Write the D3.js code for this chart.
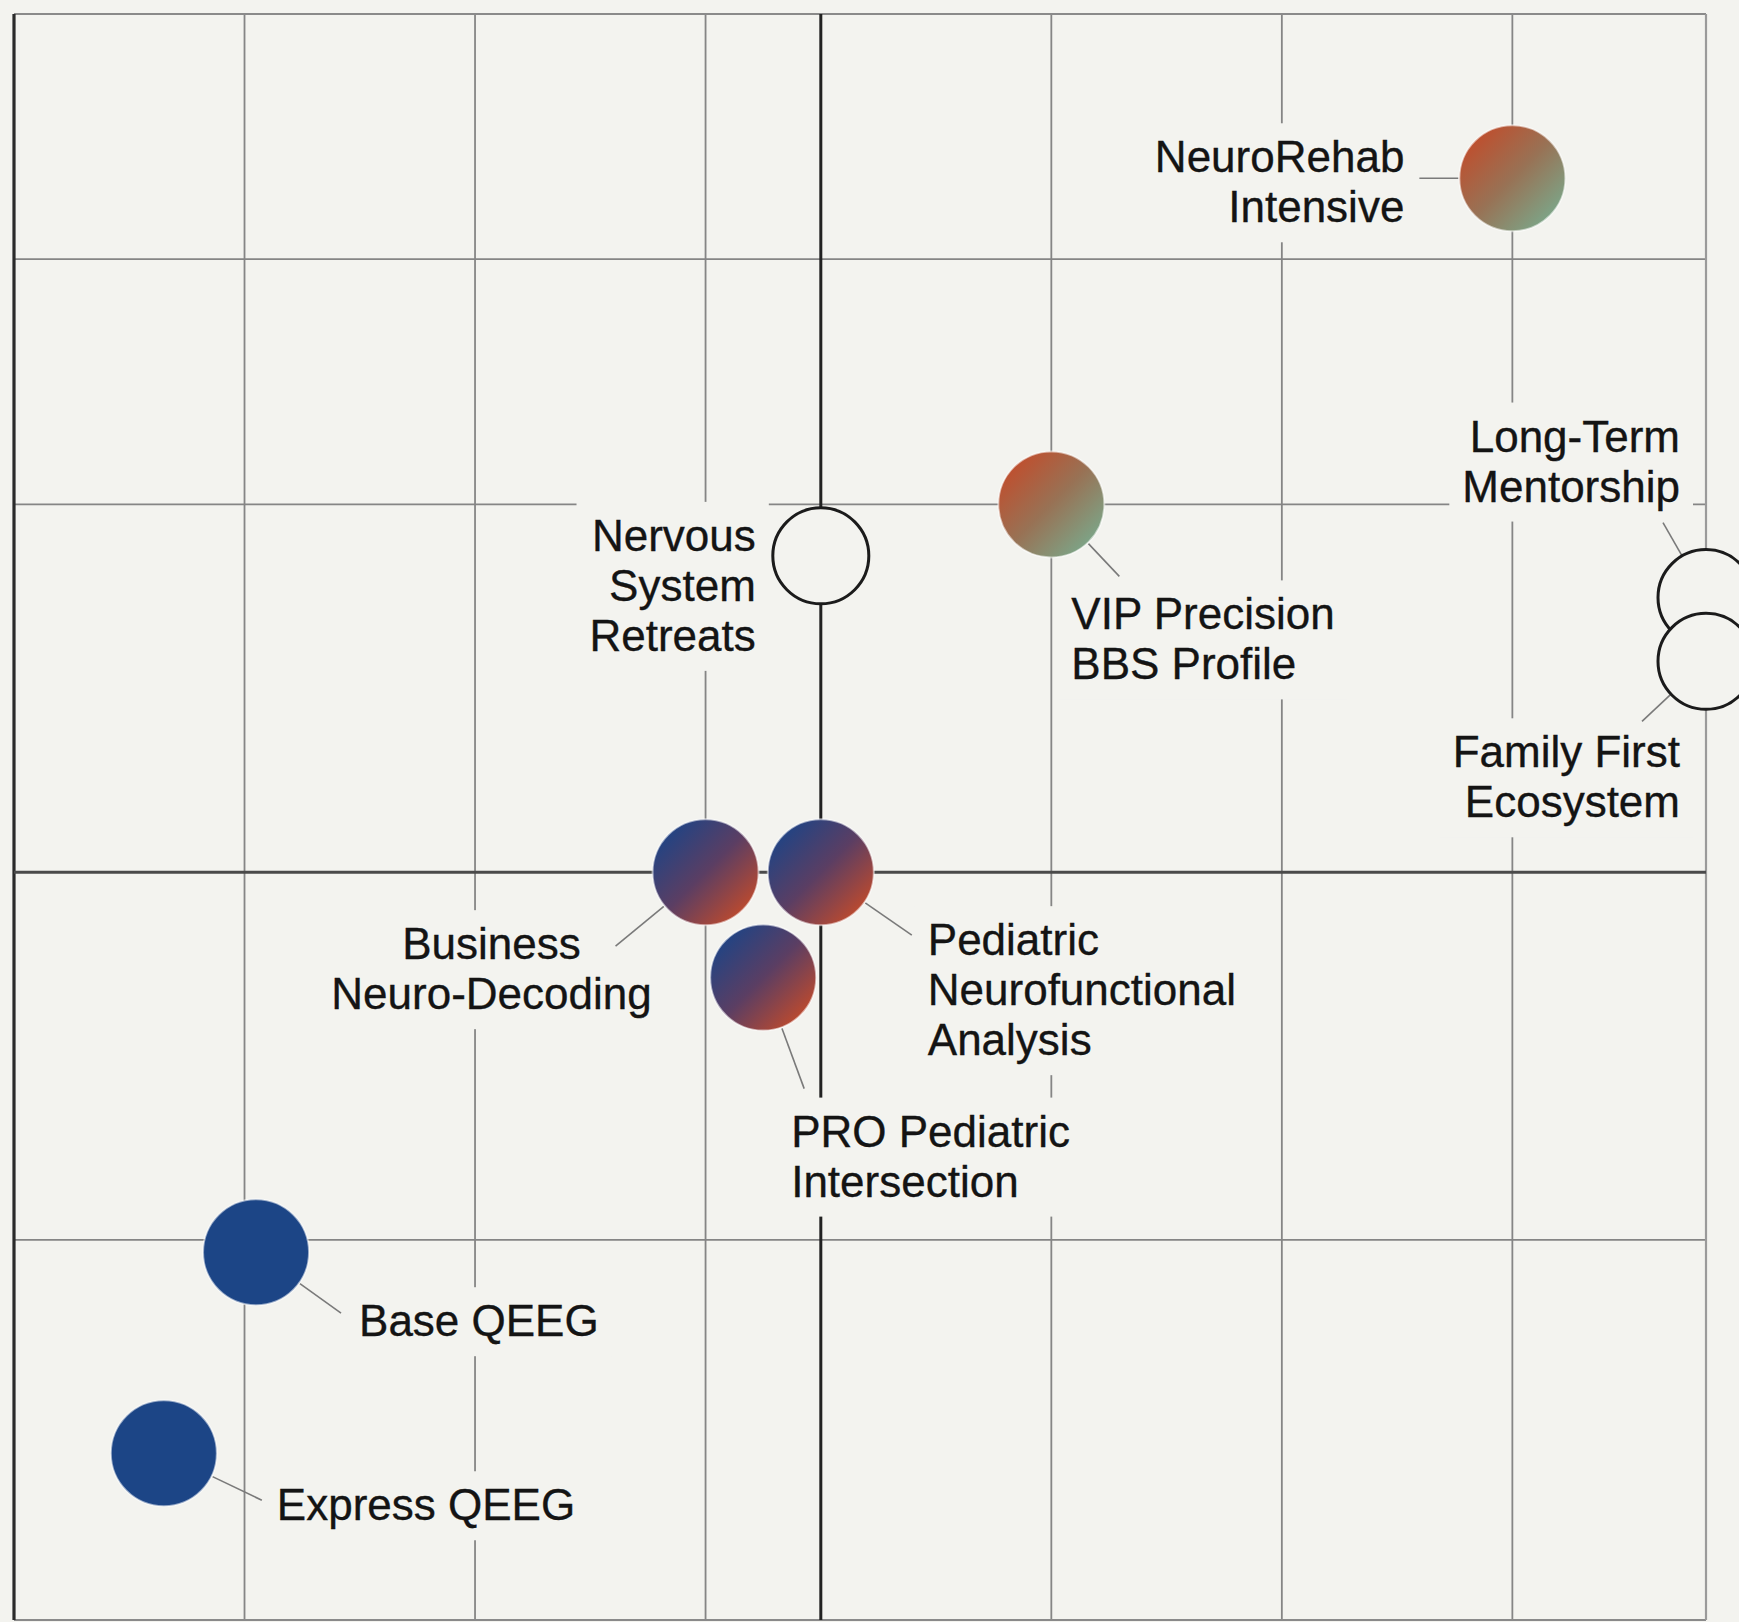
<!DOCTYPE html>
<html>
<head>
<meta charset="utf-8">
<script src="https://cdn.jsdelivr.net/npm/d3@7"></script>
<style>
  html, body { margin: 0; padding: 0; background: #f3f3ef; }
  svg { display: block; }
</style>
</head>
<body>
<svg id="chart" width="1739" height="1622"></svg>
<script>
// ---------- DATA ----------
const names = [
  "Express QEEG",
  "Base QEEG",
  "Business\nNeuro-Decoding",
  "Pediatric\nNeurofunctional\nAnalysis",
  "PRO Pediatric\nIntersection",
  "Nervous\nSystem\nRetreats",
  "VIP Precision\nBBS Profile",
  "NeuroRehab\nIntensive",
  "Long-Term\nMentorship",
  "Family First\nEcosystem"
];
const xValues = [0.65, 1.05, 3.0, 3.5, 3.25, 3.5, 4.5, 6.5, 7.34, 7.34];
const yValues = [0.63, 1.45, 3.0, 3.0, 2.57, 4.29, 4.5, 5.83, 4.12, 3.86];
const groups  = ["base", "base", "mid", "mid", "mid", "open", "premium", "premium", "open", "open"];

const xGridTicks = [1, 2, 3, 4.5, 5.5, 6.5];
const yGridTicks = [1.5, 4.5, 5.5];
const xCenter = 3.5;
const yCenter = 3.0;
const xDomain = [0, 7.34];
const yDomain = [-0.05, 6.5];

// ---------- LAYOUT (label placement, px offsets from the bubble centre) ----------
const labelLayout = [
  { anchor: "start",  dx: 113,  dy: 67,   lead: [98, 47] },
  { anchor: "start",  dx: 103,  dy: 84,   lead: [85, 61] },
  { anchor: "middle", dx: -214, dy: 87,   lead: [-90, 74] },
  { anchor: "start",  dx: 107,  dy: 83,   lead: [91, 63] },
  { anchor: "start",  dx: 28,   dy: 169,  lead: [41, 111] },
  { anchor: "end",    dx: -65,  dy: -5,   lead: null },
  { anchor: "start",  dx: 20,   dy: 125,  lead: [68, 72] },
  { anchor: "end",    dx: -108, dy: -6,   lead: [-93, 0] },
  { anchor: "end",    dx: -26,  dy: -146, lead: [-43, -75] },
  { anchor: "end",    dx: -26,  dy: 106,  lead: [-64, 60] }
];

// ---------- STYLES ----------
const BG = "#f3f3ef";
const R = 53, R_OPEN = 48;
const FONT = "'Liberation Sans', Arial, Helvetica, sans-serif";
const FS = 44, LH = 50;

const svg = d3.select("#chart");
const W = 1739, H = 1622;

const x = d3.scaleLinear().domain(xDomain).range([14, 1706]);
const y = d3.scaleLinear().domain(yDomain).range([1620, 14]);

svg.append("rect").attr("width", W).attr("height", H).attr("fill", BG);

// gradients
const defs = svg.append("defs");
function grad(id, stops) {
  const g = defs.append("linearGradient").attr("id", id)
    .attr("x1", "0.1").attr("y1", "0.1").attr("x2", "0.9").attr("y2", "0.9");
  stops.forEach(s => g.append("stop").attr("offset", s[0]).attr("stop-color", s[1]));
}
grad("gMid", [["0%", "#1d4486"], ["50%", "#5b3e63"], ["100%", "#c44b2a"]]);
grad("gPremium", [["0%", "#c24c2b"], ["50%", "#987255"], ["100%", "#7aa98c"]]);

const fills = { base: "#1c4586", mid: "url(#gMid)", premium: "url(#gPremium)", open: BG };

// ---------- GRID ----------
const grid = svg.append("g");
grid.selectAll("line.gx").data(xGridTicks).join("line")
  .attr("x1", d => x(d)).attr("x2", d => x(d))
  .attr("y1", y(yDomain[1])).attr("y2", y(yDomain[0]))
  .attr("stroke", "#858585").attr("stroke-width", 1.8);
grid.selectAll("line.gy").data(yGridTicks).join("line")
  .attr("y1", d => y(d)).attr("y2", d => y(d))
  .attr("x1", x(xDomain[0])).attr("x2", x(xDomain[1]))
  .attr("stroke", "#858585").attr("stroke-width", 1.8);

// frame
grid.append("line").attr("x1", x(xDomain[0])).attr("x2", x(xDomain[1]))
  .attr("y1", y(yDomain[1])).attr("y2", y(yDomain[1]))
  .attr("stroke", "#8a8a8a").attr("stroke-width", 2.2);
grid.append("line").attr("x1", x(xDomain[0])).attr("x2", x(xDomain[1]))
  .attr("y1", y(yDomain[0])).attr("y2", y(yDomain[0]))
  .attr("stroke", "#8a8a8a").attr("stroke-width", 2.2);
grid.append("line").attr("x1", x(xDomain[1])).attr("x2", x(xDomain[1]))
  .attr("y1", y(yDomain[1])).attr("y2", y(yDomain[0]))
  .attr("stroke", "#9a9a9a").attr("stroke-width", 2.2);
grid.append("line").attr("x1", x(xDomain[0])).attr("x2", x(xDomain[0]))
  .attr("y1", y(yDomain[1])).attr("y2", y(yDomain[0]))
  .attr("stroke", "#2a2a2a").attr("stroke-width", 3.2);

// centre axes
grid.append("line").attr("x1", x(xCenter)).attr("x2", x(xCenter))
  .attr("y1", y(yDomain[1])).attr("y2", y(yDomain[0]))
  .attr("stroke", "#222").attr("stroke-width", 3);
grid.append("line").attr("y1", y(yCenter)).attr("y2", y(yCenter))
  .attr("x1", x(xDomain[0])).attr("x2", x(xDomain[1]))
  .attr("stroke", "#4a4a4a").attr("stroke-width", 3);

// ---------- POINTS ----------
const pts = names.map((n, i) => ({
  name: n, lines: n.split("\n"), cx: x(xValues[i]), cy: y(yValues[i]),
  group: groups[i], lay: labelLayout[i]
}));

const bgLayer = svg.append("g");
const leadLayer = svg.append("g");
const dotLayer = svg.append("g");
const textLayer = svg.append("g");

const texts = textLayer.selectAll("text").data(pts).join("text")
  .attr("x", d => d.cx + d.lay.dx)
  .attr("y", d => d.cy + d.lay.dy)
  .attr("text-anchor", d => d.lay.anchor)
  .attr("font-family", FONT).attr("font-size", FS).attr("fill", "#141414")
  .attr("stroke", "#141414").attr("stroke-width", 0.35);
texts.each(function(d) {
  const t = d3.select(this);
  d.lines.forEach((ln, k) => {
    t.append("tspan").attr("x", d.cx + d.lay.dx).attr("dy", k === 0 ? 0 : LH).text(ln);
  });
});
texts.each(function(d) {
  const b = this.getBBox();
  const pad = 13;
  bgLayer.append("rect")
    .attr("x", b.x - pad).attr("y", b.y - pad + 4)
    .attr("width", b.width + 2 * pad).attr("height", b.height + 2 * pad - 6)
    .attr("fill", BG);
});

// leaders
leadLayer.selectAll("line").data(pts.filter(d => d.lay.lead)).join("line")
  .each(function(d) {
    const [ex, ey] = d.lay.lead;
    const len = Math.hypot(ex, ey);
    const r = (d.group === "open" ? R_OPEN : R) + 1;
    d3.select(this)
      .attr("x1", d.cx + ex / len * r).attr("y1", d.cy + ey / len * r)
      .attr("x2", d.cx + ex).attr("y2", d.cy + ey);
  })
  .attr("stroke", "#7a7a7a").attr("stroke-width", 1.6);

// bubbles
dotLayer.selectAll("circle").data(pts).join("circle")
  .attr("cx", d => d.cx).attr("cy", d => d.cy)
  .attr("r", d => d.group === "open" ? R_OPEN : R)
  .attr("fill", d => fills[d.group])
  .attr("stroke", d => d.group === "open" ? "#1b1b1b" : "rgba(255,255,255,0.55)")
  .attr("stroke-width", d => d.group === "open" ? 3 : 2);
</script>
</body>
</html>
